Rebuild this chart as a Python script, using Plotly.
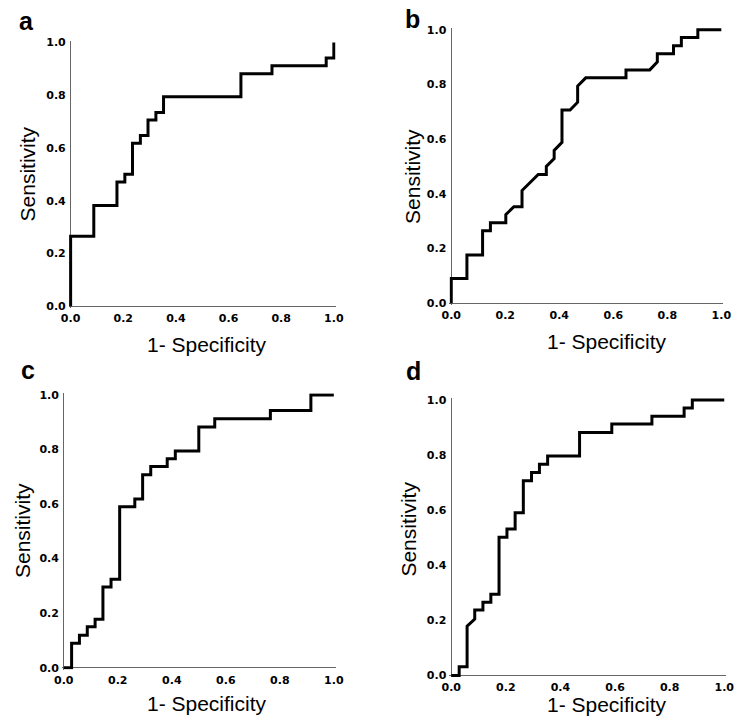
import plotly.graph_objects as go

# ---- data ----
panel_labels = ["a", "b", "c", "d"]
tick_vals = [0.0, 0.2, 0.4, 0.6, 0.8, 1.0]
tick_text = ["0.0", "0.2", "0.4", "0.6", "0.8", "1.0"]
x_title = "1- Specificity"
y_title = "Sensitivity"

a_fpr = [0, 0, 0.088, 0.088, 0.176, 0.176, 0.206, 0.206, 0.235, 0.235, 0.265, 0.265, 0.294,
         0.294, 0.324, 0.324, 0.353, 0.353, 0.647, 0.647, 0.765, 0.765, 0.971, 0.971, 1.0, 1.0]
a_tpr = [0, 0.265, 0.265, 0.382, 0.382, 0.471, 0.471, 0.5, 0.5, 0.618, 0.618, 0.647, 0.647,
         0.706, 0.706, 0.735, 0.735, 0.794, 0.794, 0.882, 0.882, 0.912, 0.912, 0.941, 0.941, 1.0]

b_fpr = [0, 0, 0.058, 0.058, 0.116, 0.116, 0.145, 0.145, 0.202, 0.202, 0.232, 0.262, 0.262,
         0.322, 0.352, 0.352, 0.381, 0.381, 0.41, 0.41, 0.44, 0.468, 0.468, 0.498, 0.647, 0.647,
         0.735, 0.763, 0.763, 0.823, 0.823, 0.852, 0.852, 0.913, 0.913, 1.0]
b_tpr = [0, 0.09, 0.09, 0.176, 0.176, 0.265, 0.265, 0.294, 0.294, 0.324, 0.353, 0.353, 0.412,
         0.471, 0.471, 0.5, 0.529, 0.559, 0.588, 0.706, 0.706, 0.735, 0.794, 0.824, 0.824, 0.853,
         0.853, 0.882, 0.912, 0.912, 0.941, 0.941, 0.971, 0.971, 1.0, 1.0]

c_fpr = [0, 0.029, 0.029, 0.058, 0.058, 0.087, 0.087, 0.116, 0.116, 0.145, 0.145, 0.175, 0.175,
         0.207, 0.207, 0.263, 0.263, 0.292, 0.292, 0.322, 0.322, 0.383, 0.383, 0.413, 0.413, 0.5,
         0.5, 0.559, 0.559, 0.765, 0.765, 0.915, 0.915, 1.0]
c_tpr = [0, 0, 0.09, 0.09, 0.119, 0.119, 0.15, 0.15, 0.178, 0.178, 0.296, 0.296, 0.324, 0.324,
         0.59, 0.59, 0.619, 0.619, 0.708, 0.708, 0.738, 0.738, 0.766, 0.766, 0.795, 0.795, 0.883,
         0.883, 0.913, 0.913, 0.943, 0.943, 1.0, 1.0]

d_fpr = [0, 0.029, 0.029, 0.058, 0.058, 0.086, 0.086, 0.116, 0.116, 0.145, 0.145, 0.175, 0.175,
         0.204, 0.204, 0.234, 0.234, 0.264, 0.264, 0.294, 0.294, 0.323, 0.323, 0.353, 0.353, 0.47,
         0.47, 0.588, 0.588, 0.735, 0.735, 0.853, 0.853, 0.883, 0.883, 1.0]
d_tpr = [0, 0, 0.032, 0.032, 0.179, 0.205, 0.238, 0.238, 0.266, 0.266, 0.295, 0.295, 0.502,
         0.502, 0.532, 0.532, 0.591, 0.591, 0.707, 0.707, 0.737, 0.737, 0.767, 0.767, 0.797,
         0.797, 0.882, 0.882, 0.913, 0.913, 0.941, 0.941, 0.971, 0.971, 1.0, 1.0]

series = [(a_fpr, a_tpr), (b_fpr, b_tpr), (c_fpr, c_tpr), (d_fpr, d_tpr)]

# ---- layout geometry (pixels) ----
W, H = 744, 725
# (x of value 0, x of value 1, y of value 0, y of value 1)
boxes = [(64, 333, 306, 39), (453, 729, 303, 26), (57, 333, 672, 396), (453, 732, 680, 401)]
letter_pos = [(19, 17), (413, 15), (20, 371), (414, 372)]
ytitle_pos = [(20, 172), (414, 175), (15, 533), (409, 532)]
xtitle_pos = [(203, 345), (612, 342), (203, 708), (612, 709)]
PAD = 0.007

fig = go.Figure()
for i, (fx, ty) in enumerate(series):
    n = "" if i == 0 else str(i + 1)
    fig.add_trace(go.Scatter(x=fx, y=ty, mode="lines", xaxis="x" + n, yaxis="y" + n,
                             line=dict(color="black", width=3), showlegend=False,
                             hoverinfo="x+y"))
    x0, x1, y0, y1 = boxes[i]
    wx = x1 - x0
    hy = y0 - y1
    dom_x = [(x0 - PAD * wx) / W, (x1 + PAD * wx) / W]
    dom_y = [1 - (y0 + PAD * hy) / H, 1 - (y1 - PAD * hy) / H]
    ax_common = dict(range=[-PAD, 1 + PAD], tickvals=tick_vals, ticktext=tick_text,
                     showgrid=False, showline=False, zeroline=True, zerolinecolor="#666666",
                     zerolinewidth=1.3, ticks="",
                     tickfont=dict(family="DejaVu Sans", size=11, color="black", weight="bold"))
    fig.layout["xaxis" + n] = dict(domain=dom_x, anchor="y" + n, ticklabelstandoff=2, **ax_common)
    fig.layout["yaxis" + n] = dict(domain=dom_y, anchor="x" + n, ticklabelstandoff=2, **ax_common)

    fig.add_annotation(text=panel_labels[i], x=letter_pos[i][0] / W, y=1 - letter_pos[i][1] / H,
                       xref="paper", yref="paper", showarrow=False, xanchor="center", yanchor="middle",
                       font=dict(family="Liberation Sans", size=25, color="black", weight="bold"))
    fig.add_annotation(text=y_title, x=ytitle_pos[i][0] / W, y=1 - ytitle_pos[i][1] / H,
                       xref="paper", yref="paper", showarrow=False, textangle=-90,
                       xanchor="center", yanchor="middle",
                       font=dict(family="Liberation Sans", size=21, color="black"))
    fig.add_annotation(text=x_title, x=xtitle_pos[i][0] / W, y=1 - xtitle_pos[i][1] / H,
                       xref="paper", yref="paper", showarrow=False,
                       xanchor="center", yanchor="middle",
                       font=dict(family="Liberation Sans", size=21, color="black"))

fig.update_layout(width=W, height=H, margin=dict(l=0, r=0, t=0, b=0),
                  paper_bgcolor="white", plot_bgcolor="white")

fig.write_html("out.html", config={"displayModeBar": False},
               post_script="document.body.style.margin='0';document.body.style.overflow='hidden';")
